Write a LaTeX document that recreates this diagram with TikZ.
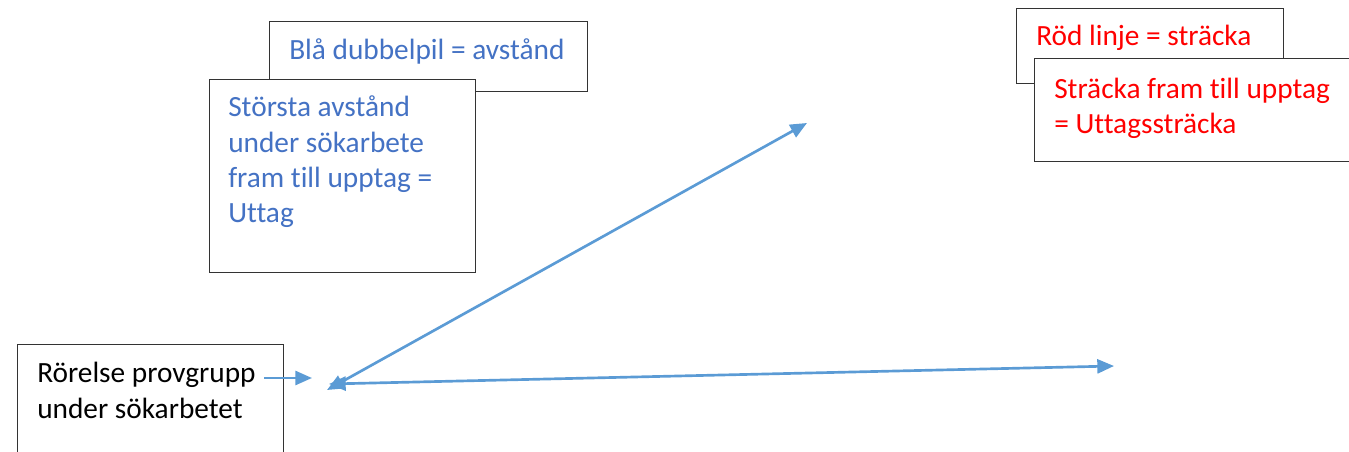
\documentclass[tikz,border=0pt]{standalone}
\usepackage{fontspec}
\newfontfamily\bodyfont[Ligatures=NoCommon]{Carlito}
\usetikzlibrary{arrows.meta}
\definecolor{txtblue}{HTML}{4472C4}
\definecolor{arrblue}{HTML}{5B9BD5}
\begin{document}
\begin{tikzpicture}[
			x=0.75pt, y=-0.75pt,
			every node/.style={inner sep=0},
			box/.style={draw=black!80, fill=white, line width=1.1pt, anchor=north west},
			label/.style={font=\bodyfont\fontsize{22}{26.5}\selectfont, anchor=base west, align=left},
			pil/.style={draw=arrblue, line width=2pt, -{Triangle[length=12.5pt, width=10.5pt]}},
			dubbelpil/.style={pil, {Triangle[length=12.5pt, width=10.5pt]}-{Triangle[length=12.5pt, width=10.5pt]}},
		]
		\useasboundingbox (0,0) rectangle (1349,452);
		% blue legend boxes
		\node[box, minimum width=238.5pt, minimum height=52.5pt] (blabox) at (269,21) {};
		\node[label, text=txtblue] (blatext) at (289,60) {Blå dubbelpil = avstånd};
		\node[box, minimum width=199.5pt, minimum height=144.75pt] (uttagbox) at (209,79) {};
		\node[label, text=txtblue] (uttagtext) at (228,223) {Största avstånd\\under sökarbete\\fram till upptag =\\Uttag};
		% red legend boxes
		\node[box, minimum width=200.25pt, minimum height=56.25pt] (rodbox) at (1016,8) {};
		\node[label, text=red] (rodtext) at (1036,46) {Röd linje = sträcka};
		\node[box, minimum width=260pt, minimum height=77.25pt] (strackabox) at (1034,58) {};
		\node[label, text=red] (strackatext) at (1054,134) {Sträcka fram till upptag\\= Uttagssträcka};
		% group box
		\node[box, minimum width=199.5pt, minimum height=90pt] (gruppbox) at (17,344) {};
		\node[label, text=black] (grupptext) at (37,418) {Rörelse provgrupp\\under sökarbetet};
		% arrows
		\coordinate (start) at (264,378);
		\coordinate (mitt) at (312,378);
		\coordinate (nav1) at (327,390);
		\coordinate (nav2) at (329,384);
		\coordinate (upptag) at (807,123);
		\coordinate (slut) at (1114,366);
		\draw[pil] (start) -- (mitt);
		\draw[dubbelpil] (nav1) -- (upptag);
		\draw[dubbelpil] (nav2) -- (slut);
		\end{tikzpicture}
\end{document}
